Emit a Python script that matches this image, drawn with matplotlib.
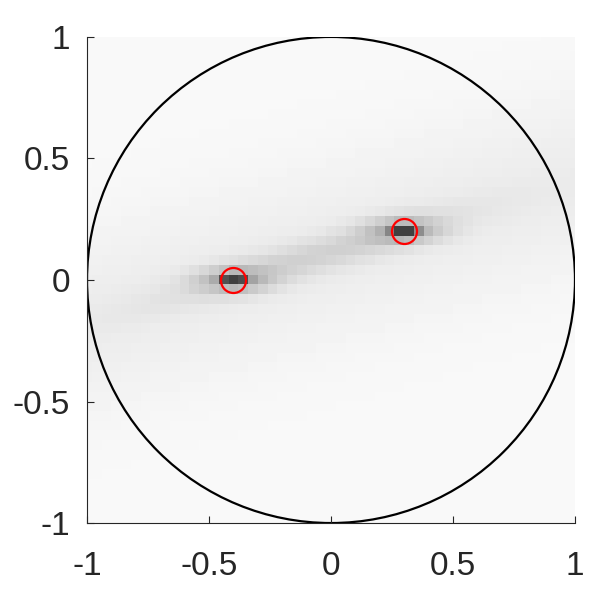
import numpy as np
import matplotlib.pyplot as plt
from matplotlib.patches import Circle

# source positions (red circles)
src_x = [-0.4, 0.3]
src_y = [0.0, 0.2]

# darkness (0 = white, 1 = black)
peak_dark = [0.72, 0.72]      # dark cells at the sources
blob_dark = [0.20, 0.20]      # grey blob round each source
band_dark = 0.11              # streak joining the two sources
tail_dark = [0.10, 0.10]      # streak going on past each source (left, right)
haze_dark = 0.05              # wide haze along the streak
base_dark = 0.025

xticks = [-1, -0.5, 0, 0.5, 1]
yticks = [-1, -0.5, 0, 0.5, 1]
tick_labels = ['-1', '-0.5', '0', '0.5', '1']

# image grid, 51 x 51 cells centred on -1..1
g = np.linspace(-1, 1, 51)
X, Y = np.meshgrid(g, g)

# coordinates along / across the line through the two sources
ux, uy = src_x[1] - src_x[0], src_y[1] - src_y[0]
L = np.hypot(ux, uy)
ux, uy = ux / L, uy / L
t = (X - src_x[0]) * ux + (Y - src_y[0]) * uy
d = -(X - src_x[0]) * uy + (Y - src_y[0]) * ux

D = base_dark + haze_dark * np.exp(-d**2 / (2 * 0.25**2))
along = np.where(t < 0, tail_dark[0] * np.exp(t / 0.3),
                 np.where(t > L, tail_dark[1] * np.exp(-(t - L) / 0.25), band_dark))
D += along * np.exp(-d**2 / (2 * 0.05**2))
for i in range(2):
    dx = X - src_x[i]
    dy = Y - src_y[i]
    D += blob_dark[i] * np.exp(-dx**2 / (2 * 0.11**2) - dy**2 / (2 * 0.035**2))
    D += peak_dark[i] * np.exp(-dx**2 / (2 * 0.032**2) - dy**2 / (2 * 0.015**2))
D = np.clip(D, 0, 0.75)

fig = plt.figure(figsize=(5.94, 5.91), dpi=100)
ax = fig.add_axes([0.1465, 0.115, 0.8215, 0.8225])

ax.imshow(1 - D, cmap='gray', vmin=0, vmax=1, origin='lower',
          extent=[-1.02, 1.02, -1.02, 1.02], interpolation='nearest', aspect='auto')
ax.add_patch(Circle((0, 0), 1, fill=False, ec='black', lw=1.6))
ax.plot(src_x, src_y, 'o', ms=18, mfc='none', mec='red', mew=1.6)

ax.set_xlim(-1, 1)
ax.set_ylim(-1, 1)
ax.set_xticks(xticks)
ax.set_xticklabels(tick_labels)
ax.set_yticks(yticks)
ax.set_yticklabels(tick_labels)

for s in ['top', 'right']:
    ax.spines[s].set_visible(False)
for s in ['left', 'bottom']:
    ax.spines[s].set_color('#262626')
    ax.spines[s].set_linewidth(0.8)
ax.tick_params(direction='in', length=5, width=0.8, color='#262626',
               labelcolor='#262626', labelsize=24)
ax.tick_params(axis='x', pad=20)
ax.tick_params(axis='y', pad=12)
for lab in ax.get_xticklabels() + ax.get_yticklabels():
    lab.set_family('Liberation Sans')

fig.savefig('out.png', dpi=100)
